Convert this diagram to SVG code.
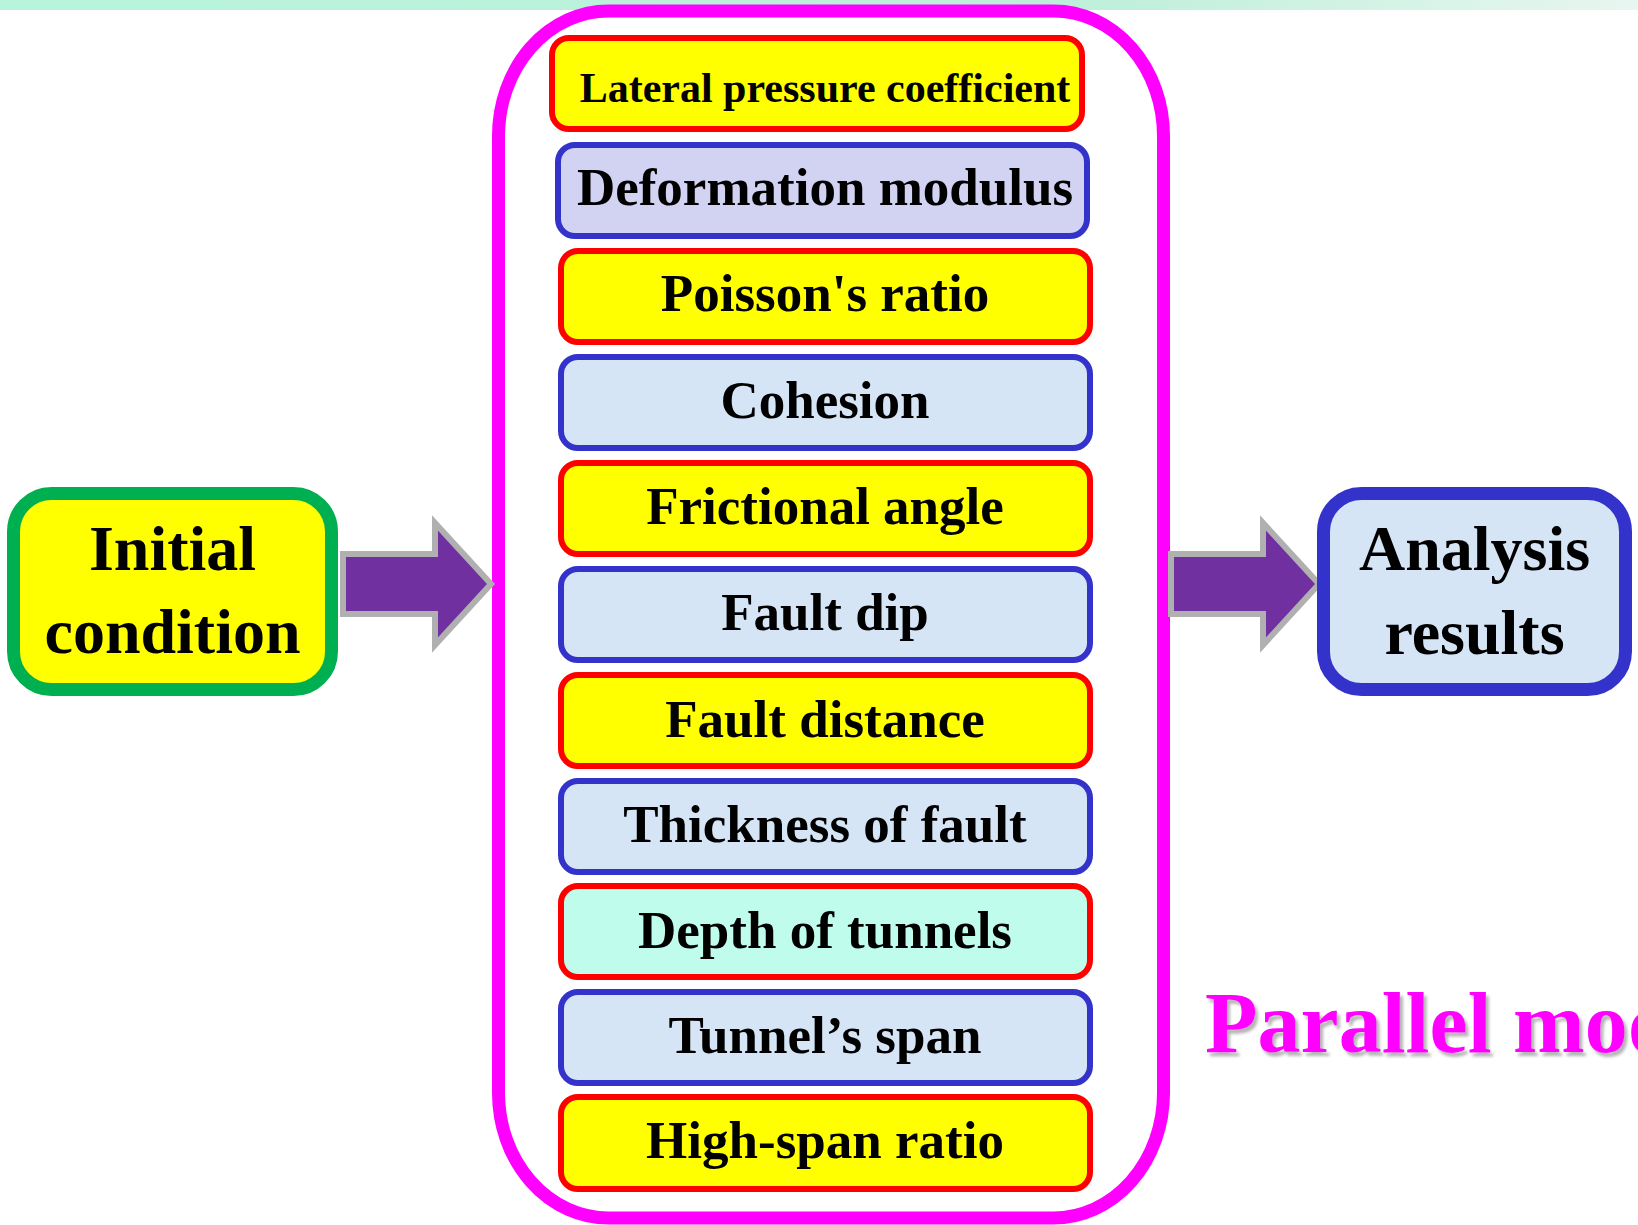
<svg xmlns="http://www.w3.org/2000/svg" width="1638" height="1225" viewBox="0 0 1638 1225">
<defs>
<linearGradient id="topbar" x1="0" y1="0" x2="1" y2="0">
<stop offset="0" stop-color="#b8f4dc"/>
<stop offset="0.65" stop-color="#bcefd9"/>
<stop offset="1" stop-color="#e8f6f0"/>
</linearGradient>
<filter id="shadow" x="-5%" y="-20%" width="110%" height="140%">
<feDropShadow dx="3" dy="4" stdDeviation="1.6" flood-color="#777777" flood-opacity="0.55"/>
</filter>
</defs>
<style>
.lbl{font-family:"Liberation Serif","Times New Roman",serif;font-weight:bold;fill:#000;text-anchor:middle}
.big{font-size:64px}
.mid{font-size:53px}
.sm{font-size:42px}
.redbox{fill:#ffff00;stroke:#ff0000;stroke-width:6}
.bluebox{fill:#d6e5f5;stroke:#3333cc;stroke-width:6}
.lavbox{fill:#d2d2f2;stroke:#3333cc;stroke-width:6}
.mintbox{fill:#c0fcec;stroke:#ff0000;stroke-width:6}
.arrow{fill:#7030a0;stroke:#b0b0b0;stroke-width:6;stroke-linejoin:miter}
</style>
<rect x="0" y="0" width="1638" height="1225" fill="#ffffff"/>
<rect x="0" y="0" width="1638" height="10" fill="url(#topbar)"/>

<g id="container">
<rect x="498.5" y="11" width="665" height="1207" rx="110" ry="125" fill="none" stroke="#ff00ff" stroke-width="13"/>
</g>

<g id="connectors">
<polygon class="arrow" points="343,554 435,554 435,523 491,584 435,645 435,614 343,614"/>
<polygon class="arrow" points="1171,554 1263,554 1263,523 1319,584 1263,645 1263,614 1171,614"/>
</g>

<g id="initial-condition">
<rect x="13.5" y="493.5" width="318" height="196" rx="38" fill="#ffff00" stroke="#00b050" stroke-width="13"/>
<text class="lbl big" x="172.5" y="570">Initial</text>
<text class="lbl big" x="172.5" y="653">condition</text>
</g>

<g id="analysis-results">
<rect x="1323.5" y="493.5" width="302" height="196" rx="38" fill="#d6e5f5" stroke="#3333cc" stroke-width="13"/>
<text class="lbl big" x="1474.5" y="570">Analysis</text>
<text class="lbl big" x="1474.5" y="654">results</text>
</g>

<g id="p1">
<rect class="redbox" x="552" y="38" width="530" height="91" rx="17"/>
<text class="lbl sm" x="825" y="102">Lateral pressure coefficient</text>
</g>
<g id="p2">
<rect class="lavbox" x="558" y="145" width="529" height="91" rx="17"/>
<text class="lbl mid" x="825" y="205">Deformation modulus</text>
</g>
<g id="p3">
<rect class="redbox" x="561" y="251" width="529" height="91" rx="17"/>
<text class="lbl mid" x="825" y="311">Poisson's ratio</text>
</g>
<g id="p4">
<rect class="bluebox" x="561" y="357" width="529" height="91" rx="17"/>
<text class="lbl mid" x="825" y="418">Cohesion</text>
</g>
<g id="p5">
<rect class="redbox" x="561" y="463" width="529" height="91" rx="17"/>
<text class="lbl mid" x="825" y="524">Frictional angle</text>
</g>
<g id="p6">
<rect class="bluebox" x="561" y="569" width="529" height="91" rx="17"/>
<text class="lbl mid" x="825" y="630">Fault dip</text>
</g>
<g id="p7">
<rect class="redbox" x="561" y="675" width="529" height="91" rx="17"/>
<text class="lbl mid" x="825" y="737">Fault distance</text>
</g>
<g id="p8">
<rect class="bluebox" x="561" y="781" width="529" height="91" rx="17"/>
<text class="lbl mid" x="825" y="842">Thickness of fault</text>
</g>
<g id="p9">
<rect class="mintbox" x="561" y="886" width="529" height="91" rx="17"/>
<text class="lbl mid" x="825" y="948">Depth of tunnels</text>
</g>
<g id="p10">
<rect class="bluebox" x="561" y="992" width="529" height="91" rx="17"/>
<text class="lbl mid" x="825" y="1053">Tunnel’s span</text>
</g>
<g id="p11">
<rect class="redbox" x="561" y="1097" width="529" height="92" rx="17"/>
<text class="lbl mid" x="825" y="1158">High-span ratio</text>
</g>

<g id="title">
<text x="1205" y="1052" font-family="Liberation Serif, Times New Roman, serif" font-weight="bold" font-size="86" fill="#ff00ff" filter="url(#shadow)">Parallel mod</text>
</g>
</svg>
